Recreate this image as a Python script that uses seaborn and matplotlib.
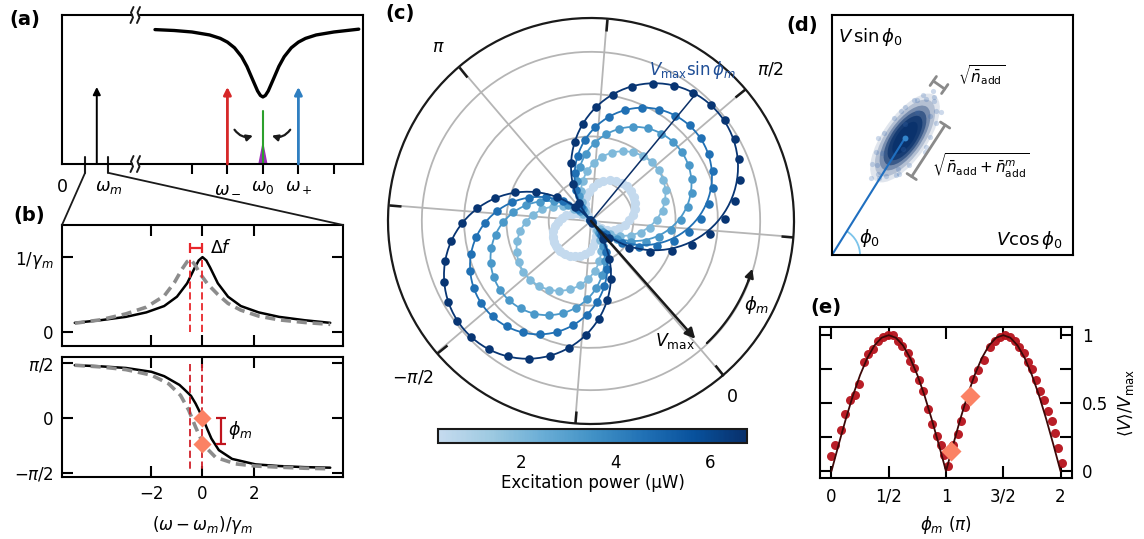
import numpy as np
import matplotlib
matplotlib.use("Agg")
import matplotlib.pyplot as plt
import seaborn as sns
from matplotlib.colors import LinearSegmentedColormap, Normalize
from matplotlib.cm import ScalarMappable
from matplotlib.lines import Line2D
from matplotlib.patches import Polygon, Ellipse, Arc, Rectangle

W, H = 1144, 539

# ---------------- data ----------------
# (a) cavity transmission dip (x in units of the sideband spacing)
dip_x = [-3.04, -2.5, -2.0, -1.5, -1.2, -1.0, -0.8, -0.6, -0.45, -0.3, -0.15, -0.07,
         0.0, 0.07, 0.15, 0.3, 0.45, 0.6, 0.8, 1.0, 1.2, 1.5, 2.0, 2.7]
dip_y = [0.902, 0.896, 0.886, 0.866, 0.843, 0.818, 0.78, 0.72, 0.655, 0.572, 0.49, 0.46,
         0.45, 0.46, 0.49, 0.572, 0.655, 0.72, 0.78, 0.818, 0.843, 0.866, 0.886, 0.905]
tone_x = [-4.68, -1.0, 1.0]
tone_h = [0.517, 0.517, 0.517]
tone_c = ['black', '#d62728', '#2f7fc1']

# (b) response amplitude and phase
amp_bx = [-5.0, -4.0, -3.0, -2.2, -1.5, -1.0, -0.6, -0.3, -0.15, 0.0, 0.15, 0.3, 0.6, 1.0, 1.5, 2.2, 3.0, 4.0, 5.0]
amp_by = [0.12, 0.155, 0.2, 0.26, 0.345, 0.47, 0.65, 0.86, 0.955, 1.0, 0.955, 0.86, 0.65, 0.47, 0.345, 0.26, 0.2, 0.155, 0.12]
amp_gx = [-5.0, -4.0, -3.0, -2.2, -1.5, -1.1, -0.8, -0.6, -0.47, -0.3, -0.1, 0.2, 0.6, 1.0, 1.5, 2.2, 3.0, 4.0, 5.0]
amp_gy = [0.115, 0.16, 0.24, 0.33, 0.48, 0.66, 0.84, 0.94, 0.97, 0.9, 0.78, 0.64, 0.5, 0.38, 0.29, 0.21, 0.16, 0.125, 0.1]
ph_bx = [-5.0, -4.0, -3.0, -2.0, -1.5, -1.2, -0.9, -0.67, -0.45, -0.27, -0.1, 0.05, 0.2, 0.35, 0.64, 1.16, 2.08, 3.0, 4.0, 5.0]
ph_by = [0.96, 0.94, 0.91, 0.84, 0.76, 0.68, 0.6, 0.5, 0.4, 0.26, 0.1, -0.05, -0.22, -0.38, -0.59, -0.75, -0.85, -0.88, -0.9, -0.91]
ph_gx = [-5.0, -4.0, -3.0, -2.0, -1.32, -0.86, -0.54, -0.27, 0.05, 0.51, 1.29, 2.08, 3.0, 4.0, 5.0]
ph_gy = [0.96, 0.93, 0.88, 0.78, 0.62, 0.41, 0.14, -0.17, -0.5, -0.72, -0.84, -0.88, -0.9, -0.92, -0.93]
shift_x = [-0.47, 0.0]
ph_dia_y = [0.0, -0.48]

# (c) polar response for five excitation powers (50 angles, 7.2 deg apart)
powers = [0.3, 2.0, 3.3, 4.6, 6.6]
fit_amp = [1.1, 2.0, 2.7, 3.25, 3.95]
theta_deg = [7.2 * k for k in range(50)]
r1_up = [0.02, 0.15, 0.29, 0.43, 0.57, 0.69, 0.81, 0.91, 1.00, 1.07, 1.12, 1.16, 1.18, 1.18, 1.16, 1.12, 1.07, 1.00, 0.91, 0.81, 0.69, 0.57, 0.43, 0.29, 0.15]
r1_lo = [0.02, 0.13, 0.25, 0.38, 0.49, 0.60, 0.70, 0.79, 0.86, 0.92, 0.97, 1.00, 1.02, 1.02, 1.00, 0.97, 0.92, 0.86, 0.79, 0.70, 0.60, 0.49, 0.38, 0.25, 0.13]
r2_up = [0.03, 0.28, 0.54, 0.78, 1.01, 1.22, 1.41, 1.57, 1.71, 1.82, 1.91, 1.97, 2.00, 2.00, 1.96, 1.90, 1.81, 1.69, 1.54, 1.37, 1.18, 0.96, 0.74, 0.50, 0.25]
r2_lo = [0.03, 0.25, 0.50, 0.74, 0.96, 1.18, 1.37, 1.54, 1.69, 1.81, 1.90, 1.96, 2.00, 2.00, 1.96, 1.90, 1.81, 1.69, 1.54, 1.37, 1.18, 0.96, 0.74, 0.50, 0.25]
r3_up = [0.04, 0.39, 0.74, 1.07, 1.38, 1.66, 1.91, 2.13, 2.32, 2.47, 2.58, 2.66, 2.70, 2.70, 2.65, 2.57, 2.44, 2.28, 2.08, 1.85, 1.59, 1.30, 0.99, 0.67, 0.34]
r3_lo = [0.03, 0.34, 0.67, 0.99, 1.30, 1.59, 1.85, 2.08, 2.28, 2.44, 2.57, 2.65, 2.70, 2.70, 2.65, 2.57, 2.44, 2.28, 2.08, 1.85, 1.59, 1.30, 0.99, 0.67, 0.34]
r4_up = [0.04, 0.47, 0.89, 1.29, 1.66, 2.01, 2.32, 2.59, 2.81, 2.99, 3.12, 3.21, 3.25, 3.25, 3.19, 3.09, 2.94, 2.74, 2.50, 2.22, 1.91, 1.57, 1.20, 0.81, 0.41]
r4_lo = [0.04, 0.41, 0.81, 1.20, 1.57, 1.91, 2.23, 2.51, 2.75, 2.94, 3.09, 3.19, 3.24, 3.24, 3.19, 3.09, 2.94, 2.74, 2.50, 2.23, 1.91, 1.57, 1.20, 0.81, 0.41]
r5_up = [0.05, 0.58, 1.10, 1.58, 2.04, 2.46, 2.84, 3.17, 3.44, 3.65, 3.80, 3.91, 3.96, 3.95, 3.87, 3.74, 3.56, 3.32, 3.03, 2.70, 2.31, 1.90, 1.45, 0.98, 0.50]
r5_lo = [0.04, 0.50, 0.99, 1.46, 1.91, 2.33, 2.71, 3.05, 3.34, 3.58, 3.76, 3.88, 3.95, 3.94, 3.87, 3.75, 3.57, 3.33, 3.04, 2.71, 2.33, 1.91, 1.46, 0.99, 0.50]
ring_r = [r1_up + r1_lo, r2_up + r2_lo, r3_up + r3_lo, r4_up + r4_lo, r5_up + r5_lo]
pmin, pmax = 0.24, 6.78

# (d) quadrature cloud outline (box pixels) and a few outlying shots
cloud_c = (73, 117)
cloud_a = [52, 45, 38, 32, 26, 19]
cloud_b = [22, 19, 16, 13.5, 11, 8]
cloud_alpha = [0.12, 0.2, 0.35, 0.55, 0.7, 0.8]
spk_s = [44, 40, 47, 36, -38, -42, -35, -45, 30, 25, -28, -20, 10, 5, -8, 15, 38, -30, 20, -15,
         50, -48, 33, -25, 0, 42, -40, 28, -10, 12, 55, -52, 46, -33]
spk_t = [5, -10, -3, 14, 8, -6, -14, 2, -17, 18, 16, -19, 21, -22, 20, -20, 12, -12, 19, 22,
         0, -2, -8, 10, -24, -14, 12, 5, -5, 8, 4, 5, 10, -16]

# (e) normalized amplitude vs phase
e_x = [0.0, 0.035, 0.079, 0.122, 0.16, 0.204, 0.242, 0.286, 0.32, 0.364, 0.408, 0.452, 0.496, 0.54,
       0.578, 0.62, 0.665, 0.686, 0.724, 0.764, 0.80, 0.846, 0.88, 0.92, 0.957, 0.986, 1.016,
       1.06, 1.103, 1.132, 1.167, 1.235, 1.278, 1.328, 1.386, 1.43, 1.474, 1.517, 1.561, 1.6,
       1.64, 1.678, 1.716, 1.751, 1.786, 1.824, 1.853, 1.891, 1.926, 1.955, 1.979, 2.014]
e_y = [0.11, 0.195, 0.305, 0.42, 0.525, 0.56, 0.64, 0.80, 0.86, 0.90, 0.96, 0.99, 1.0, 1.0,
       0.96, 0.92, 0.87, 0.81, 0.755, 0.67, 0.59, 0.456, 0.35, 0.256, 0.19, 0.12, 0.037,
       0.19, 0.27, 0.366, 0.47, 0.68, 0.744, 0.817, 0.915, 0.96, 0.99, 1.0, 0.99, 0.96,
       0.915, 0.866, 0.805, 0.75, 0.67, 0.59, 0.525, 0.446, 0.366, 0.28, 0.17, 0.06]
fit_x = [i / 16 for i in range(33)]
fit_y = [0.0, 0.195, 0.383, 0.556, 0.707, 0.831, 0.924, 0.981, 1.0, 0.981, 0.924, 0.831, 0.707, 0.556, 0.383, 0.195,
         0.0, 0.195, 0.383, 0.556, 0.707, 0.831, 0.924, 0.981, 1.0, 0.981, 0.924, 0.831, 0.707, 0.556, 0.383, 0.195, 0.0]
e_dia_x = [1.04, 1.21]
e_dia_y = [0.146, 0.554]

# ---------------- style ----------------
sns.set_theme(style="ticks")
plt.rcParams['font.family'] = ['DejaVu Sans']
plt.rcParams.update({
    'mathtext.fontset': 'dejavusans',
    'font.size': 12,
    'axes.edgecolor': 'black',
    'axes.linewidth': 1.5,
    'text.color': 'black',
    'axes.labelcolor': 'black',
    'xtick.color': 'black',
    'ytick.color': 'black',
    'xtick.labelsize': 12,
    'ytick.labelsize': 12,
    'axes.labelsize': 12,
})

SALMON = '#fb8264'


def rect(left, top, right, bottom):
    return [left / W, 1 - bottom / H, (right - left) / W, (bottom - top) / H]


def fpx(x, y):
    return x / W, 1 - y / H


fig = plt.figure(figsize=(W / 100, H / 100), dpi=100)

# ---------------- (a) ----------------
axa = fig.add_axes(rect(62, 15, 363, 164))
axa.set_xlim(-5.66, 2.82)
axa.set_ylim(0, 1)
sns.lineplot(x=dip_x, y=dip_y, ax=axa, color='black', lw=2.4, sort=False)
axa.set_xticks([-2, -1, 0, 1, 2])
axa.set_xticklabels([])
axa.set_yticks([])
axa.tick_params(axis='x', direction='out', length=7.5, width=1.5, bottom=True, top=False)
for x, h, c in zip(tone_x, tone_h, tone_c):
    lw = 1.4 if c == 'black' else 2.0
    axa.annotate('', xy=(x, h), xytext=(x, 0),
                 arrowprops=dict(arrowstyle='-|>', color=c, lw=lw, mutation_scale=11,
                                 shrinkA=0, shrinkB=0))
axa.plot([0, 0], [0, 0.356], color='#2ca02c', lw=1.5)
axa.add_patch(Polygon([(-0.11, 0), (0.11, 0), (0, 0.134)], closed=True, color='#9b30b5'))
axa.annotate('', xy=(-0.28, 0.19), xytext=(-0.8, 0.23),
             arrowprops=dict(arrowstyle='-|>', color='k', lw=1.6, mutation_scale=9,
                             connectionstyle='arc3,rad=0.35', shrinkA=0, shrinkB=0))
axa.annotate('', xy=(0.25, 0.19), xytext=(0.77, 0.23),
             arrowprops=dict(arrowstyle='-|>', color='k', lw=1.6, mutation_scale=9,
                             connectionstyle='arc3,rad=-0.35', shrinkA=0, shrinkB=0))
for lab, x in [('0', -5.66), (r'$\omega_m$', -4.35), (r'$\omega_-$', -1.0),
               (r'$\omega_0$', 0.0), (r'$\omega_+$', 1.0)]:
    axa.text(x, -0.155, lab, ha='center', va='center', fontsize=12.5, clip_on=False)
for xz in (-5.01, -4.37):
    axa.plot([xz, xz], [0.047, -0.06], color='k', lw=1.5, clip_on=False)
fig.add_artist(Line2D([85 / W, 62 / W], [1 - 173 / H, 1 - 225 / H], color='k', lw=1.3))
fig.add_artist(Line2D([109 / W, 343 / W], [1 - 173 / H, 1 - 225 / H], color='k', lw=1.3))

# axis-break marks on top and bottom spines
for yb in (15, 164):
    fig.add_artist(Rectangle(fpx(132.5, yb + 2), 5 / W, 4 / H, color='white', zorder=8))
    for xb in (132.0, 138.5):
        wx = [xb + 1.5, xb - 1.0, xb + 1.0, xb - 1.5]
        wy = [yb - 8, yb - 2.5, yb + 2.5, yb + 8]
        fig.add_artist(Line2D([v / W for v in wx], [1 - v / H for v in wy], color='k', lw=1.4, zorder=9))

# ---------------- (b) ----------------
tick_kw = dict(direction='in', length=8, width=1.5, top=True, bottom=True, left=True, right=True)
RED = '#e8262b'

axb1 = fig.add_axes(rect(62, 225, 343, 346))
sns.lineplot(x=amp_bx, y=amp_by, ax=axb1, color='black', lw=1.8, sort=False)
sns.lineplot(x=amp_gx, y=amp_gy, ax=axb1, color='#8c8c8c', lw=2.6, linestyle=(0, (2.8, 1.6)), sort=False)
for xv in shift_x:
    axb1.plot([xv, xv], [0, 1.0], color=RED, lw=1.3, ls=(0, (4, 2)))
axb1.errorbar(x=-0.235, y=1.12, xerr=0.235, color=RED, capsize=3.5, lw=1.6, capthick=1.6)
axb1.text(0.3, 1.12, r'$\Delta f$', ha='left', va='center', fontsize=12.5)
axb1.set_xlim(-5.5, 5.5)
axb1.set_ylim(-0.19, 1.43)
axb1.set_xticks([-2, 0, 2])
axb1.set_xticklabels([])
axb1.set_yticks([0, 1])
axb1.set_yticklabels(['0', r'$1/\gamma_m$'])
axb1.tick_params(pad=6, **tick_kw)

axb2 = fig.add_axes(rect(62, 357, 343, 477))
sns.lineplot(x=ph_bx, y=ph_by, ax=axb2, color='black', lw=1.8, sort=False)
sns.lineplot(x=ph_gx, y=ph_gy, ax=axb2, color='#8c8c8c', lw=2.6, linestyle=(0, (2.8, 1.6)), sort=False)
for xv in shift_x:
    axb2.plot([xv, xv], [0.99, -0.96], color='#d0202a', lw=1.3, ls=(0, (4, 2)))
axb2.scatter([0.0, 0.0], ph_dia_y, marker='D', s=85, color=SALMON, zorder=5, linewidths=0)
axb2.errorbar(x=0.71, y=-0.24, yerr=0.24, color='#c0141d', capsize=3.5, lw=1.6, capthick=1.6)
axb2.text(0.98, -0.22, r'$\phi_m$', ha='left', va='center', fontsize=12.5)
axb2.set_xlim(-5.5, 5.5)
axb2.set_ylim(-1.08, 1.11)
axb2.set_xticks([-2, 0, 2])
axb2.set_yticks([-1, 0, 1])
axb2.set_yticklabels([r'$-\pi/2$', '0', r'$\pi/2$'])
axb2.tick_params(pad=6, **tick_kw)
axb2.set_xlabel(r'$(\omega-\omega_m)/\gamma_m$', labelpad=8)

# ---------------- (c) ----------------
cmap = LinearSegmentedColormap.from_list('blues_cut', plt.cm.Blues(np.linspace(0.25, 1.0, 256)))
norm = Normalize(pmin, pmax)

axc = fig.add_axes(rect(388, 18, 794, 424), projection='polar')
axc.set_theta_offset(np.deg2rad(-49.5))
axc.set_rlim(0, 4.8)
axc.set_rgrids([1, 2, 3, 4], labels=[])
axc.set_thetagrids(list(range(0, 360, 45)), labels=[])
axc.grid(True, color='#b5b5b5', lw=1.3)
axc.tick_params(axis='x', which='major', direction='in', length=9, width=1.8, color='k',
                bottom=False, top=True)
axc.tick_params(axis='y', left=False, labelleft=False)
axc.spines['polar'].set_color('k')
axc.spines['polar'].set_linewidth(1.6)

th = np.deg2rad(theta_deg)
th_fit = np.linspace(0, 2 * np.pi, 361)
for p, a, rr in zip(powers, fit_amp, ring_r):
    c = cmap(norm(p))
    axc.plot(th_fit, a * np.abs(np.sin(th_fit)), color=c, lw=1.3, zorder=3)
    axc.scatter(th, rr, s=44 if p < 1 else 38, color=c, linewidths=0, zorder=3)

axc.plot([np.deg2rad(100), np.deg2rad(100)], [0, 3.89], color='#0b2f66', lw=1.1, zorder=4)
axc.annotate('', xy=(np.deg2rad(1), 3.72), xytext=(0, 0),
             arrowprops=dict(arrowstyle='-|>', color='k', lw=1.8, mutation_scale=15,
                             shrinkA=0, shrinkB=0), zorder=5)
arc_t = np.deg2rad(np.linspace(3, 29, 30))
axc.plot(arc_t, [3.98] * len(arc_t), color='k', lw=1.6, zorder=5)
axc.annotate('', xy=(np.deg2rad(33), 3.98), xytext=(np.deg2rad(28.5), 3.98),
             arrowprops=dict(arrowstyle='-|>', color='k', lw=1.6, mutation_scale=13,
                             shrinkA=0, shrinkB=0), zorder=5)

fig.text(*fpx(693, 70), r'$V_{\rm max}\sin\phi_m$', color='#1f4e96', ha='center', va='center', fontsize=12)
fig.text(*fpx(675, 341), r'$V_{\rm max}$', ha='center', va='center', fontsize=12.5)
fig.text(*fpx(757, 305), r'$\phi_m$', ha='center', va='center', fontsize=13)
fig.text(*fpx(732, 397), '0', ha='center', va='center', fontsize=12.5)
fig.text(*fpx(770, 70), r'$\pi/2$', ha='center', va='center', fontsize=12.5)
fig.text(*fpx(438, 47), r'$\pi$', ha='center', va='center', fontsize=12.5)
fig.text(*fpx(413, 378), r'$-\pi/2$', ha='center', va='center', fontsize=12.5)

cax = fig.add_axes(rect(438, 429, 747, 443))
cb = fig.colorbar(ScalarMappable(norm=norm, cmap=cmap), cax=cax, orientation='horizontal', ticks=[2, 4, 6])
cb.outline.set_edgecolor('k')
cb.outline.set_linewidth(1.5)
cax.tick_params(length=0, pad=8, labelsize=12)
cb.set_label('Excitation power (μW)', fontsize=12, labelpad=1)

# ---------------- (d) ----------------
axd = fig.add_axes(rect(832, 15, 1073, 255))
axd.set_xlim(0, 241)
axd.set_ylim(0, 240)
axd.set_xticks([])
axd.set_yticks([])
for a, b, al in zip(cloud_a, cloud_b, cloud_alpha):
    axd.add_patch(Ellipse(cloud_c, 2 * a, 2 * b, angle=55, color='#08306b', alpha=al, lw=0))
ca, sa = np.cos(np.deg2rad(55)), np.sin(np.deg2rad(55))
spk_x = [cloud_c[0] + s * ca - t * sa for s, t in zip(spk_s, spk_t)]
spk_y = [cloud_c[1] + s * sa + t * ca for s, t in zip(spk_s, spk_t)]
sns.scatterplot(x=spk_x, y=spk_y, ax=axd, color='#3a6bb0', alpha=0.25, s=14, linewidth=0)
axd.plot([0, cloud_c[0]], [0, cloud_c[1]], color='#1f6fc0', lw=1.5)
axd.scatter([cloud_c[0]], [cloud_c[1]], s=18, color='#3385cc', zorder=5, linewidths=0)
axd.add_patch(Arc((0, 0), 56, 56, theta1=0, theta2=58, color='#7cc4ea', lw=1.3))


def rot_bar(ax, cx, cy, ang, half, cap):
    ux, uy = np.cos(np.deg2rad(ang)), np.sin(np.deg2rad(ang))
    vx, vy = -uy, ux
    p1 = (cx - half * ux, cy - half * uy)
    p2 = (cx + half * ux, cy + half * uy)
    ax.plot([p1[0], p2[0]], [p1[1], p2[1]], color='#8a8a8a', lw=2)
    for px_, py_ in (p1, p2):
        ax.plot([px_ - cap * vx, px_ + cap * vx], [py_ - cap * vy, py_ + cap * vy], color='#8a8a8a', lw=2)


rot_bar(axd, 107, 170, -35, 7.0, 5.5)
rot_bar(axd, 96.4, 104.2, 57, 30.7, 5.5)
axd.text(126, 180, r'$\sqrt{\bar{n}_{\rm add}}$', ha='left', va='center', fontsize=11)
axd.text(100, 89, r'$\sqrt{\bar{n}_{\rm add}+\bar{n}_{\rm add}^{m}}$', ha='left', va='center', fontsize=11)
axd.text(6, 218, r'$V\,\sin\phi_0$', ha='left', va='center', fontsize=13)
axd.text(231, 15, r'$V\cos\phi_0$', ha='right', va='center', fontsize=13)
axd.text(38, 17, r'$\phi_0$', ha='center', va='center', fontsize=13)

# ---------------- (e) ----------------
axe = fig.add_axes(rect(820, 327, 1072, 478))
sns.scatterplot(x=e_x, y=e_y, ax=axe, color='#b5121b', s=42, linewidth=0, alpha=0.95, zorder=2)
sns.lineplot(x=fit_x, y=fit_y, ax=axe, color='#3d0808', lw=1.3, sort=False, zorder=3)
axe.scatter(e_dia_x, e_dia_y, marker='D', s=104, color=SALMON, zorder=5, linewidths=0)
axe.set_xlim(-0.1, 2.1)
axe.set_ylim(-0.05, 1.06)
axe.set_xticks([0, 0.5, 1, 1.5, 2])
axe.set_xticklabels(['0', '1/2', '1', '3/2', '2'])
axe.set_yticks([0, 0.25, 0.5, 0.75, 1])
axe.set_yticklabels(['0', '', '0.5', '', '1'])
axe.tick_params(direction='in', length=8.5, width=1.5, top=True, bottom=True, left=True, right=True,
                labelleft=False, labelright=True, pad=7)
axe.yaxis.set_label_position('right')
axe.set_xlabel(r'$\phi_m\ (\pi)$', labelpad=6)
axe.set_ylabel(r'$\langle V\rangle/V_{\rm max}$', labelpad=6)

# ---------------- panel labels ----------------
for lab, (x, y) in [('(a)', (25, 19)), ('(b)', (29, 216)), ('(c)', (400, 14)),
                    ('(d)', (802, 25)), ('(e)', (826, 307))]:
    fig.text(*fpx(x, y), lab, ha='center', va='center', fontsize=14, fontweight='bold')

fig.savefig('out.png', dpi=100)
